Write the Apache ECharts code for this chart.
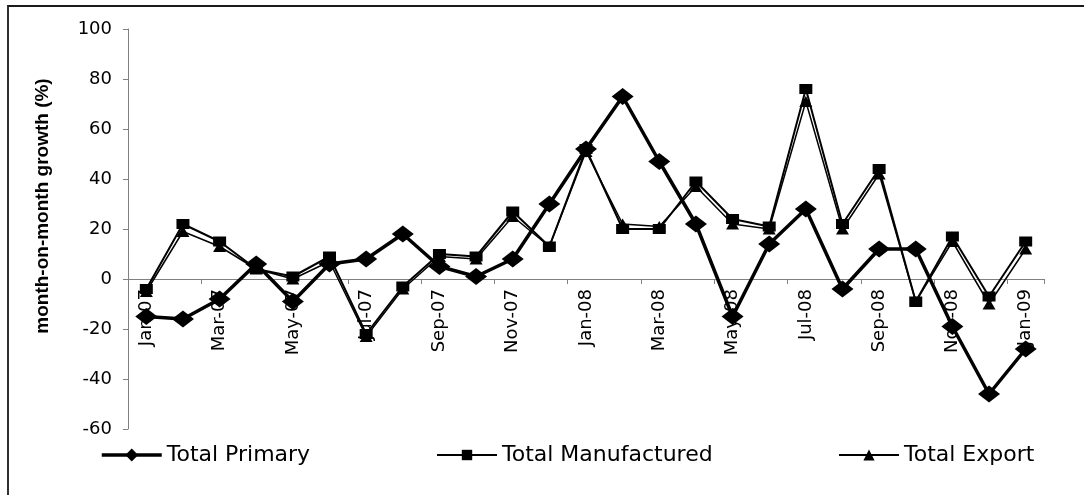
<!DOCTYPE html>
<html>
<head>
<meta charset="utf-8">
<script src="https://cdn.jsdelivr.net/npm/echarts@6/dist/echarts.min.js"></script>
<style>
  html, body { margin: 0; padding: 0; background: #fff; }
  #chart { width: 1084px; height: 495px; }
</style>
</head>
<body>
<div id="chart"></div>
<script>
// Monthly categories (tick labels on the x axis)
const months = [
  'Jan-07', 'Feb-07', 'Mar-07', 'Apr-07', 'May-07', 'Jun-07', 'Jul-07', 'Aug-07',
  'Sep-07', 'Oct-07', 'Nov-07', 'Dec-07', 'Jan-08', 'Feb-08', 'Mar-08', 'Apr-08',
  'May-08', 'Jun-08', 'Jul-08', 'Aug-08', 'Sep-08', 'Oct-08', 'Nov-08', 'Dec-08', 'Jan-09'
];

// Month-on-month growth, %
const totalPrimary = [
  -15, -16, -8, 6, -9, 6, 8, 18, 5, 1, 8, 30, 52,
  73, 47, 22, -15, 14, 28, -4, 12, 12, -19, -46, -28
];
const totalManufactured = [
  -4, 22, 15, 4, 1, 9, -22, -3, 10, 9, 27, 13, 52,
  20, 20, 39, 24, 21, 76, 22, 44, -9, 17, -7, 15
];
const totalExport = [
  -5, 19, 13, 4, 0, 7, -23, -4, 9, 8, 25, 13, 51,
  22, 21, 37, 22, 20, 71, 20, 42, -9, 15, -10, 12
];

// Value axis range
const yMin = -60;
const yMax = 100;
const yStep = 20;

const GRID = { left: 128, right: 40, top: 29, bottom: 66 };
const CHART_H = 495;
const plotH = CHART_H - GRID.top - GRID.bottom;
// The category axis (line, ticks and labels) sits on the zero line
const zeroShift = (0 - yMin) / (yMax - yMin) * plotH;

const AXIS_GREY = '#808080';
const INK = '#000';
const FONT = 'DejaVu Sans';

function legendFor(name, left, itemHeight, lineWidth) {
  return {
    data: [name],
    left: left,
    top: 439,
    itemWidth: 60,
    itemHeight: itemHeight,
    itemGap: 0,
    lineStyle: { width: lineWidth, color: INK },
    textStyle: { fontFamily: FONT, fontSize: 22, color: INK }
  };
}

const chart = echarts.init(document.getElementById('chart'));
chart.setOption({
  animation: false,
  backgroundColor: '#fff',
  grid: Object.assign({ containLabel: false }, GRID),
  graphic: [
    {
      type: 'rect',
      silent: true,
      shape: { x: 8, y: 6, width: 1200, height: 600 },
      style: { fill: 'none', stroke: '#1a1a1a', lineWidth: 1.8 }
    },
    {
      type: 'text',
      silent: true,
      x: 43,
      y: 206,
      rotation: Math.PI / 2,
      style: {
        text: 'month-on-month growth (%)',
        font: 'bold 19px "Liberation Sans"',
        fill: INK,
        align: 'center',
        verticalAlign: 'middle'
      }
    }
  ],
  legend: [
    legendFor('Total Primary', 95, 16, 3.5),
    legendFor('Total Manufactured', 431, 13, 2),
    legendFor('Total Export', 833, 14, 2)
  ],
  xAxis: {
    type: 'category',
    data: months,
    boundaryGap: true,
    position: 'bottom',
    offset: -zeroShift,
    axisLine: { onZero: false, lineStyle: { color: AXIS_GREY, width: 1 } },
    axisTick: { show: true, interval: 1, length: 5, lineStyle: { color: AXIS_GREY } },
    axisLabel: {
      interval: 1,
      rotate: 90,
      margin: 10,
      fontFamily: FONT,
      fontSize: 18,
      color: INK
    },
    splitLine: { show: false }
  },
  yAxis: {
    type: 'value',
    min: yMin,
    max: yMax,
    interval: yStep,
    axisLine: { show: true, lineStyle: { color: AXIS_GREY, width: 1 } },
    axisTick: { show: true, length: 5, lineStyle: { color: AXIS_GREY } },
    axisLabel: { margin: 16, fontFamily: FONT, fontSize: 18, color: INK },
    splitLine: { show: false }
  },
  series: [
    {
      name: 'Total Primary',
      type: 'line',
      data: totalPrimary,
      symbol: 'diamond',
      symbolSize: [22, 17],
      showAllSymbol: true,
      lineStyle: { color: INK, width: 3.5 },
      itemStyle: { color: INK, borderWidth: 0 },
      z: 3
    },
    {
      name: 'Total Manufactured',
      type: 'line',
      data: totalManufactured,
      symbol: 'rect',
      symbolSize: [13, 10],
      showAllSymbol: true,
      lineStyle: { color: INK, width: 2 },
      itemStyle: { color: INK, borderWidth: 0 },
      z: 4
    },
    {
      name: 'Total Export',
      type: 'line',
      data: totalExport,
      symbol: 'triangle',
      symbolSize: [13, 11],
      showAllSymbol: true,
      lineStyle: { color: INK, width: 1.5 },
      itemStyle: { color: INK, borderWidth: 0 },
      z: 5
    }
  ]
});
</script>
</body>
</html>
